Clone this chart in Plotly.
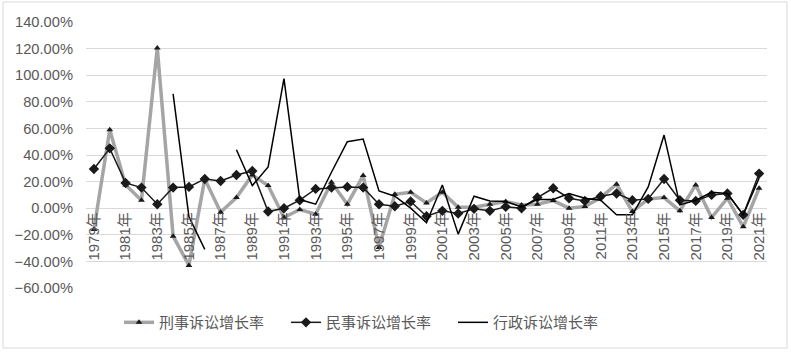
import plotly.graph_objects as go

years = [f"{y}年" for y in range(1979, 2022)]

criminal = [-16, 59, 17.5, 6, 120.5, -21, -43, 22, -3, 8, 25, 17,
            -7, -1, -4.5, 19.5, 3, 24.5, -29.5, 10.5, 12, 4, 12, 0.75, 0.75, 3, 5,
            2.5, 3, 5.75, 0, 1.25, 8, 18, -2.5, 7, 8, -2, 17.5, -7, 7.5, -14, 15]

civil = [29.5, 45, 19, 15.5, 3, 15.5, 16, 22, 20.5, 25, 28, -2.5,
         0, 6, 14.5, 15.5, 16, 15.5, 3, 1.5, 5, -6, -2, -4, -0.5, -2, 1,
         0, 8, 15, 7.5, 5.5, 9, 11, 6, 7, 22, 6, 5.5, 10, 11, -5, 26]

admin = [None, None, None, None, None, 86, -6.5, -31, None, 44, 17, 31,
         97.5, 6.5, 3, 27, 50, 52, 13, 9, 0, -11, 17.5, -19.5, 9, 5.5, 5,
         1, 6.5, 6.5, 11, 7.5, 6, -5, -5, 16, 55, 2.5, 6, 12, 11, -5, 22.5]

names = ["刑事诉讼增长率", "民事诉讼增长率", "行政诉讼增长率"]

def frac(v):
    return None if v is None else v / 100.0

FONT = "Liberation Sans, Arial, Noto Sans CJK SC, sans-serif"
CJK = "Noto Sans CJK SC, sans-serif"

fig = go.Figure()
fig.add_trace(go.Scatter(
    x=years, y=[frac(v) for v in criminal], name=names[0], mode="lines+markers",
    line=dict(color="#A5A5A5", width=3.5),
    marker=dict(symbol="triangle-up", size=6, color="#1a1a1a"),
))
fig.add_trace(go.Scatter(
    x=years, y=[frac(v) for v in civil], name=names[1], mode="lines+markers",
    line=dict(color="#1a1a1a", width=1.5),
    marker=dict(symbol="diamond", size=8, color="#1a1a1a"),
))
fig.add_trace(go.Scatter(
    x=years, y=[frac(v) for v in admin], name=names[2], mode="lines",
    line=dict(color="#000000", width=1.5), connectgaps=False,
))

fig.update_layout(
    width=791, height=352,
    margin=dict(l=86, r=24, t=22, b=64),
    paper_bgcolor="white", plot_bgcolor="white",
    font=dict(family=FONT, size=14.7, color="#595959"),
    showlegend=True,
    legend=dict(orientation="h", x=(119 - 86) / 681, xanchor="left", y=-0.13, yanchor="middle",
                font=dict(family=CJK, size=15, color="#595959"), itemwidth=30, tracegroupgap=0,
                entrywidth=122, entrywidthmode="pixels"),
    xaxis=dict(
        type="category", categoryorder="array", categoryarray=years,
        range=[-0.5, 42.5], anchor="free", position=0.3,
        tickmode="array", tickvals=years[::2], ticktext=years[::2],
        tickangle=-90, showgrid=False, showline=False, ticks="", zeroline=False,
        tickfont=dict(family=FONT, size=15, color="#595959"),
    ),
    yaxis=dict(
        range=[-0.6, 1.4], tickmode="linear", tick0=-0.6, dtick=0.2,
        tickformat=".2%", showgrid=True, gridcolor="#D9D9D9", gridwidth=1,
        zeroline=False, showline=False, ticks="", ticklabelstandoff=12,
        tickfont=dict(family=FONT, size=14.7, color="#595959"),
    ),
    shapes=[dict(type="rect", xref="paper", yref="paper",
                 x0=-83/681, x1=(787-86)/681, y0=(288-348)/266, y1=(288-2)/266,
                 line=dict(color="#D9D9D9", width=1), fillcolor="rgba(0,0,0,0)", layer="below")],
)

fig.write_html("out.html")
